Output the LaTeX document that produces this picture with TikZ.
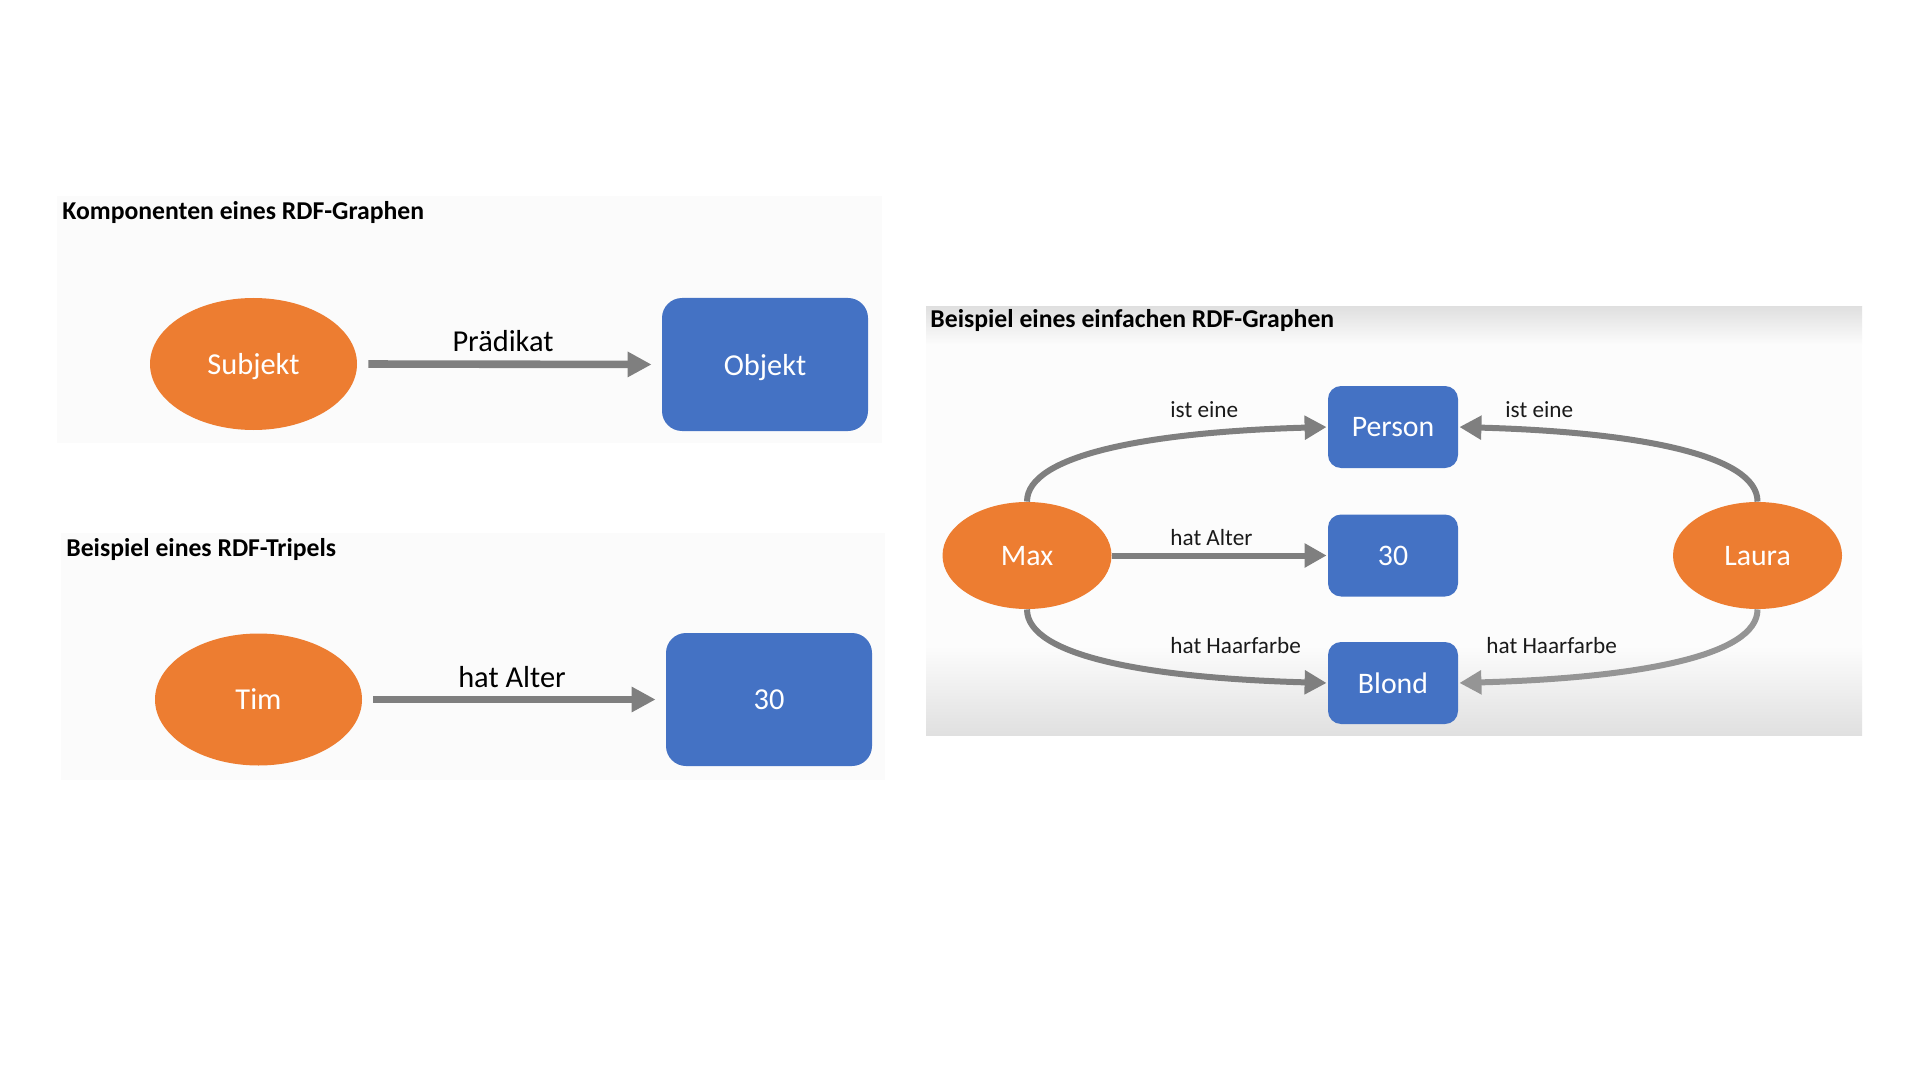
\documentclass[tikz,border=0pt]{standalone}
\usepackage{fontspec}
\setmainfont{Carlito}
\usetikzlibrary{arrows.meta,shapes.geometric}
\definecolor{rdforange}{HTML}{ED7D31}
\definecolor{rdfblue}{HTML}{4472C4}
\definecolor{arrowgray}{HTML}{7F7F7F}
\definecolor{arrowlight}{HTML}{959595}
\definecolor{panelbg}{HTML}{FBFBFB}
\definecolor{panelgray}{HTML}{E0E0E0}
\definecolor{labeltext}{HTML}{1A1A1A}
\begin{document}
\begin{tikzpicture}[x=0.5pt,y=-0.5pt,
  subj/.style={ellipse, fill=rdforange, text=white, inner sep=0pt, text depth=0pt},
  bigsubj/.style={subj, minimum width=103.5pt, minimum height=66pt, font=\fontsize{15.2}{18}\selectfont},
  smallsubj/.style={subj, minimum width=84.5pt, minimum height=53.5pt, font=\fontsize{14.9}{18}\selectfont},
  obj/.style={rectangle, fill=rdfblue, text=white, inner sep=0pt, text depth=0pt},
  bigobj/.style={obj, minimum width=103pt, minimum height=66.5pt, rounded corners=10pt, font=\fontsize{15.2}{18}\selectfont},
  smallobj/.style={obj, minimum width=65pt, minimum height=41pt, rounded corners=6.5pt, font=\fontsize{14.9}{18}\selectfont},
  heading/.style={anchor=base west, inner sep=0pt, font=\bfseries\fontsize{12.85}{15}\selectfont},
  biglabel/.style={anchor=base, inner sep=0pt, font=\fontsize{15.2}{18}\selectfont},
  smalllabel/.style={anchor=base west, inner sep=0pt, text=labeltext, font=\fontsize{11.6}{14}\selectfont},
  bigarrow/.style={draw=arrowgray, line width=3.8pt, -{Triangle[length=12pt,width=12pt]}, shorten <=5.5pt, shorten >=5pt},
  smallarrow/.style={draw=arrowgray, line width=3pt, -{Triangle[length=11pt,width=11.5pt]}, shorten >=0.5pt},
]
% canvas
\fill[white] (0,0) rectangle (1920,1080);
\useasboundingbox (0,0) rectangle (1920,1080);

% panels
\fill[panelbg] (57,196) rectangle (882,443);
\fill[panelbg] (61,533) rectangle (885,780);
\fill[white!99!black] (926,307) rectangle (1862,735);
\shade[top color=panelgray, bottom color=white!99!black] (926,307) rectangle (1862,345);
\shade[top color=white!99!black, bottom color=panelgray] (926,645) rectangle (1862,735);

% headings
\node[heading] (h1) at (62,220) {Komponenten eines RDF-Graphen};
\node[heading] (h2) at (66,556) {Beispiel eines RDF-Tripels};
\node[heading] (h3) at (930,328) {Beispiel eines einfachen RDF-Graphen};

% panel 1
\node[bigsubj] (subj) at (253.5,364) {Subjekt};
\node[bigobj] (objekt) at (765,364.5) {Objekt};
\draw[bigarrow] (subj.east) -- (objekt.west);
\node[biglabel] (praed) at (503,351) {Prädikat};

% panel 2
\node[bigsubj] (tim) at (258.5,699.5) {Tim};
\node[bigobj] (timage) at (769,699.5) {30};
\draw[bigarrow] (tim.east) -- (timage.west);
\node[biglabel] (hatalter) at (512,687) {hat Alter};

% panel 3
\node[smallsubj] (max) at (1027,555.5) {Max};
\node[smallsubj] (laura) at (1757.5,555.5) {Laura};
\node[smallobj] (person) at (1393,427) {Person};
\node[smallobj] (age) at (1393,555.5) {30};
\node[smallobj] (blond) at (1393,683) {Blond};

\draw[smallarrow] (max.north) .. controls +(0,-47) and +(-178,5) .. (person.west);
\draw[smallarrow] (max.east) -- (age.west);
\draw[smallarrow] (max.south) .. controls +(0,47) and +(-178,-5) .. (blond.west);
\draw[smallarrow] (laura.north) .. controls +(0,-47) and +(178,5) .. (person.east);
\draw[smallarrow, draw=arrowlight] (laura.south) .. controls +(0,47) and +(178,-5) .. (blond.east);

\node[smalllabel] (l1) at (1170,417) {ist eine};
\node[smalllabel] (l2) at (1170,545) {hat Alter};
\node[smalllabel] (l3) at (1170,653) {hat Haarfarbe};
\node[smalllabel] (l4) at (1505,417) {ist eine};
\node[smalllabel] (l5) at (1486,653) {hat Haarfarbe};
\end{tikzpicture}
\end{document}
